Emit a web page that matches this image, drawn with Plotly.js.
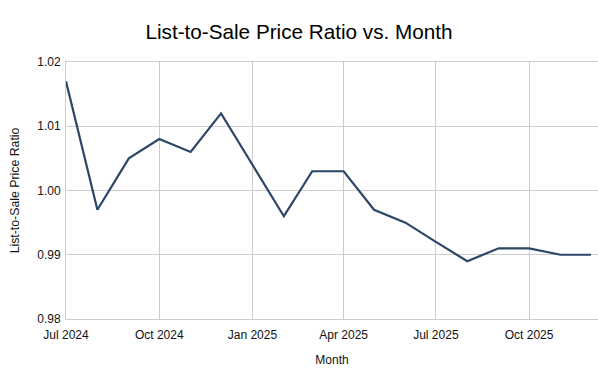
<!DOCTYPE html>
<html><head><meta charset="utf-8">
<script src="https://cdn.plot.ly/plotly-3.0.1.min.js"></script>
<style>html,body{margin:0;padding:0;background:#fff}#chart{width:598px;height:377px}</style>
</head><body><div id="chart"></div>
<script>
const months = ["2024-07-01","2024-08-01","2024-09-01","2024-10-01","2024-11-01","2024-12-01",
  "2025-01-01","2025-02-01","2025-03-01","2025-04-01","2025-05-01","2025-06-01",
  "2025-07-01","2025-08-01","2025-09-01","2025-10-01","2025-11-01","2025-12-01"];
const ratio = [1.017,0.997,1.005,1.008,1.006,1.012,1.004,0.996,1.003,1.003,0.997,0.995,0.992,0.989,0.991,0.991,0.990,0.990];
const yTicks = [0.98,0.99,1.00,1.01,1.02];

const font = "Liberation Sans, Arial, sans-serif";
Plotly.newPlot("chart", [{
  x: months, y: ratio, type: "scatter", mode: "lines",
  line: {color: "#2c4668", width: 2.2}, hoverinfo: "skip"
}], {
  width: 598, height: 377,
  margin: {l: 66, r: 0, t: 62, b: 58},
  paper_bgcolor: "#fff", plot_bgcolor: "#fff",
  font: {family: font, color: "#111", size: 12},
  title: {text: "List-to-Sale Price Ratio vs. Month", x: 0.5, xanchor: "center", y: 0.915, yanchor: "middle",
    font: {family: font, size: 20.7, color: "#000"}},
  xaxis: {type: "date", range: ["2024-07-01","2025-12-08"], dtick: "M3", tick0: "2024-07-01",
    tickformat: "%b %Y", showgrid: true, gridcolor: "#cccccc", gridwidth: 1,
    showline: true, linecolor: "#cccccc", mirror: true, ticks: "", ticklabelstandoff: 5,
    tickfont: {size: 12, color: "#111"}, zeroline: false,
    title: {text: "Month", font: {size: 12, color: "#111"}, standoff: 14}},
  yaxis: {range: [0.98, 1.02], tickvals: yTicks, tickformat: ".2f",
    showgrid: true, gridcolor: "#cccccc", gridwidth: 1, showline: true, linecolor: "#cccccc",
    ticks: "", zeroline: false, tickfont: {size: 12, color: "#111"}, ticklabelstandoff: 2,
    title: {text: "List-to-Sale Price Ratio", font: {size: 12.3, color: "#111"}, standoff: 14}},
  showlegend: false
}, {displayModeBar: false, staticPlot: true});
</script></body></html>
